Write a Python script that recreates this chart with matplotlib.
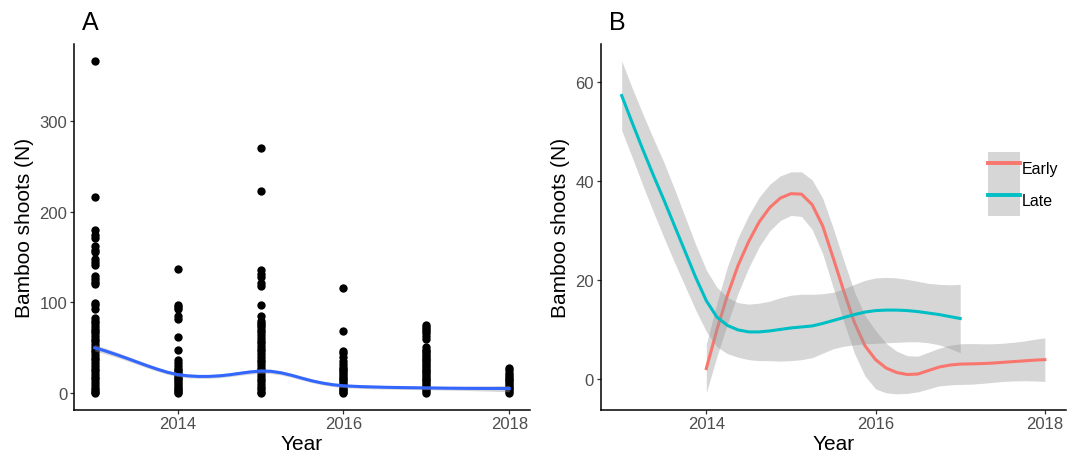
import matplotlib
matplotlib.use('Agg')
import matplotlib.pyplot as plt
import numpy as np
from matplotlib.lines import Line2D
from matplotlib.patches import Patch

plt.rcParams['font.family'] = ['Liberation Sans', 'DejaVu Sans']

# panel A: shoots counted per plot, by year
years = [2013, 2014, 2015, 2016, 2017, 2018]
shoots_2013 = [367, 216, 180, 175, 171, 162, 158, 156, 148, 145, 141, 129, 126, 123, 120,
               99, 97, 93, 83, 80, 77, 74, 71, 68, 66, 63, 60, 57, 54, 51, 48, 45, 42, 39,
               36, 33, 30, 27, 24, 21, 18, 15, 12, 9, 6, 3, 1, 0]
shoots_2014 = [137, 97, 95, 93, 85, 82, 62, 48, 37, 33, 30, 27, 25, 23, 21, 19, 17, 15,
               13, 11, 9, 7, 5, 3, 1, 0]
shoots_2015 = [270, 223, 136, 131, 128, 121, 118, 97, 85, 80, 77, 75, 73, 70, 67, 64, 61,
               58, 55, 52, 49, 46, 43, 40, 37, 34, 31, 28, 25, 22, 19, 16, 13, 10, 7, 4, 1, 0]
shoots_2016 = [116, 69, 47, 44, 40, 35, 32, 29, 27, 25, 23, 21, 19, 17, 15, 13, 11, 9, 7,
               5, 3, 1, 0]
shoots_2017 = [75, 73, 71, 69, 66, 63, 60, 51, 48, 46, 44, 42, 40, 38, 36, 34, 32, 30, 28,
               26, 24, 22, 20, 18, 16, 14, 12, 10, 8, 6, 4, 2, 0]
shoots_2018 = [28, 25, 22, 20, 18, 16, 14, 12, 10, 8, 6, 4, 2, 0]
shoots = [shoots_2013, shoots_2014, shoots_2015, shoots_2016, shoots_2017, shoots_2018]

# loess fit over all years (blue) with its standard band
smooth_x = [2013.0, 2013.125, 2013.25, 2013.375, 2013.5, 2013.625, 2013.75, 2013.875,
            2014.0, 2014.125, 2014.25, 2014.375, 2014.5, 2014.625, 2014.75, 2014.875,
            2015.0, 2015.125, 2015.25, 2015.375, 2015.5, 2015.625, 2015.75, 2015.875,
            2016.0, 2016.25, 2016.5, 2016.75, 2017.0, 2017.25, 2017.5, 2017.75, 2018.0]
smooth_fit = [50, 46.6, 42.8, 38.8, 34.6, 30.4, 26.5, 23.0, 20.4, 19.0, 18.4, 18.4, 19.0,
              20.2, 21.8, 23.3, 24.3, 24.0, 22.3, 19.6, 16.4, 13.4, 11.0, 9.2, 8.0, 7.0,
              6.4, 6.0, 5.7, 5.4, 5.2, 5.1, 5.0]
smooth_se = [3.6, 3.2, 2.9, 2.7, 2.5, 2.4, 2.3, 2.2, 2.1, 2.1, 2.1, 2.1, 2.1, 2.1, 2.2, 2.3,
             2.4, 2.4, 2.3, 2.2, 2.1, 2.0, 2.0, 2.0, 2.0, 2.0, 2.0, 2.0, 2.0, 2.1, 2.4, 2.9,
             3.6]

# panel B: smoothed trends for early and late cohorts
early_x = [2014.0, 2014.125, 2014.25, 2014.375, 2014.5, 2014.625, 2014.75, 2014.875,
           2015.0, 2015.125, 2015.25, 2015.375, 2015.5, 2015.625, 2015.75, 2015.875,
           2016.0, 2016.125, 2016.25, 2016.375, 2016.5, 2016.625, 2016.75, 2016.875,
           2017.0, 2017.125, 2017.25, 2017.375, 2017.5, 2017.625, 2017.75, 2017.875, 2018.0]
early_fit = [2.2, 10.0, 17.0, 23.0, 27.8, 31.8, 34.7, 36.6, 37.5, 37.4, 35.3, 31.0, 24.5,
             17.8, 11.5, 6.8, 4.0, 2.3, 1.4, 1.0, 1.1, 1.8, 2.5, 2.9, 3.1, 3.15, 3.2, 3.3,
             3.45, 3.6, 3.75, 3.9, 4.0]
early_se = [4.9, 5.4, 5.8, 5.6, 5.3, 5.0, 4.7, 4.5, 4.4, 4.5, 5.0, 5.6, 6.0, 6.2, 6.2, 6.1,
            5.9, 5.0, 4.3, 3.8, 3.6, 3.7, 3.8, 4.0, 4.1, 4.1, 4.0, 3.9, 3.85, 3.9, 4.0, 4.2,
            4.4]

late_x = [2013.0, 2013.125, 2013.25, 2013.375, 2013.5, 2013.625, 2013.75, 2013.875,
          2014.0, 2014.125, 2014.25, 2014.375, 2014.5, 2014.625, 2014.75, 2014.875,
          2015.0, 2015.125, 2015.25, 2015.375, 2015.5, 2015.625, 2015.75, 2015.875,
          2016.0, 2016.125, 2016.25, 2016.375, 2016.5, 2016.625, 2016.75, 2016.875, 2017.0]
late_fit = [57.3, 51.8, 46.4, 41.2, 36.2, 31.0, 25.8, 20.6, 15.9, 12.6, 10.9, 10.0, 9.6,
            9.6, 9.8, 10.1, 10.4, 10.6, 10.8, 11.3, 11.9, 12.5, 13.1, 13.6, 13.9, 14.0,
            14.0, 13.9, 13.7, 13.4, 13.1, 12.7, 12.3]
late_se = [7.0, 7.0, 7.2, 7.4, 7.6, 7.4, 7.0, 6.6, 6.2, 6.0, 5.7, 5.5, 5.6, 5.8, 6.0, 6.4,
           6.6, 6.6, 6.4, 6.0, 5.7, 5.8, 6.1, 6.4, 6.6, 6.6, 6.5, 6.3, 6.1, 6.0, 6.1, 6.4,
           6.9]

band = '#999999'
tick_col = '#4D4D4D'

fig = plt.figure(figsize=(10.77, 4.6), dpi=100)
axA = fig.add_axes([74/1077, 1-410.7/460, (530-74)/1077, (410.7-45)/460])
axB = fig.add_axes([600.5/1077, 1-410.7/460, (1066-600.5)/1077, (410.7-45)/460])

for yr, vals in zip(years, shoots):
    axA.scatter([yr]*len(vals), vals, s=36, color='black', linewidths=0, zorder=2)
sf, ss = np.array(smooth_fit), np.array(smooth_se)
axA.fill_between(smooth_x, sf - ss, sf + ss, color=band, alpha=0.4, linewidth=0, zorder=3)
axA.plot(smooth_x, smooth_fit, color='#3366FF', lw=2.2, zorder=4)
axA.set_xlim(2012.75, 2018.25)
axA.set_ylim(-18.35, 385.35)
axA.set_yticks([0, 100, 200, 300])

ef, es = np.array(early_fit), np.array(early_se)
lf, ls = np.array(late_fit), np.array(late_se)
axB.fill_between(early_x, ef - es, ef + es, color=band, alpha=0.4, linewidth=0, zorder=2)
axB.plot(early_x, early_fit, color='#F8766D', lw=2.2, zorder=3)
axB.fill_between(late_x, lf - ls, lf + ls, color=band, alpha=0.4, linewidth=0, zorder=4)
axB.plot(late_x, late_fit, color='#00BFC4', lw=2.2, zorder=5)
axB.set_xlim(2012.75, 2018.25)
axB.set_ylim(-6.1, 67.7)
axB.set_yticks([0, 20, 40, 60])

for ax in (axA, axB):
    ax.set_xticks([2014, 2016, 2018])
    for side in ('top', 'right'):
        ax.spines[side].set_visible(False)
    for side in ('left', 'bottom'):
        ax.spines[side].set_linewidth(1.1)
        ax.spines[side].set_color('black')
    ax.tick_params(length=2.8, width=0.9, color='#333333', labelcolor=tick_col,
                   labelsize=12, pad=2)
    ax.set_xlabel('Year', fontsize=15, labelpad=2)
    ax.set_ylabel('Bamboo shoots (N)', fontsize=15, labelpad=4)

handles = [(Patch(facecolor='#D6D6D6', edgecolor='none'), Line2D([], [], color='#F8766D', lw=2.8)),
           (Patch(facecolor='#D6D6D6', edgecolor='none'), Line2D([], [], color='#00BFC4', lw=2.8))]
axB.legend(handles, ['Early', 'Late'], loc='center left', bbox_to_anchor=(0.832, 0.616),
           frameon=False, fontsize=11.5, handlelength=2.0, handleheight=2.7,
           labelspacing=0, handletextpad=0.1, borderpad=0, borderaxespad=0)

fig.text(90.7/1077, 1-22.7/460, 'A', fontsize=18, ha='center', va='center')
fig.text(617/1077, 1-22.7/460, 'B', fontsize=18, ha='center', va='center')

fig.savefig('out.png', dpi=100)
